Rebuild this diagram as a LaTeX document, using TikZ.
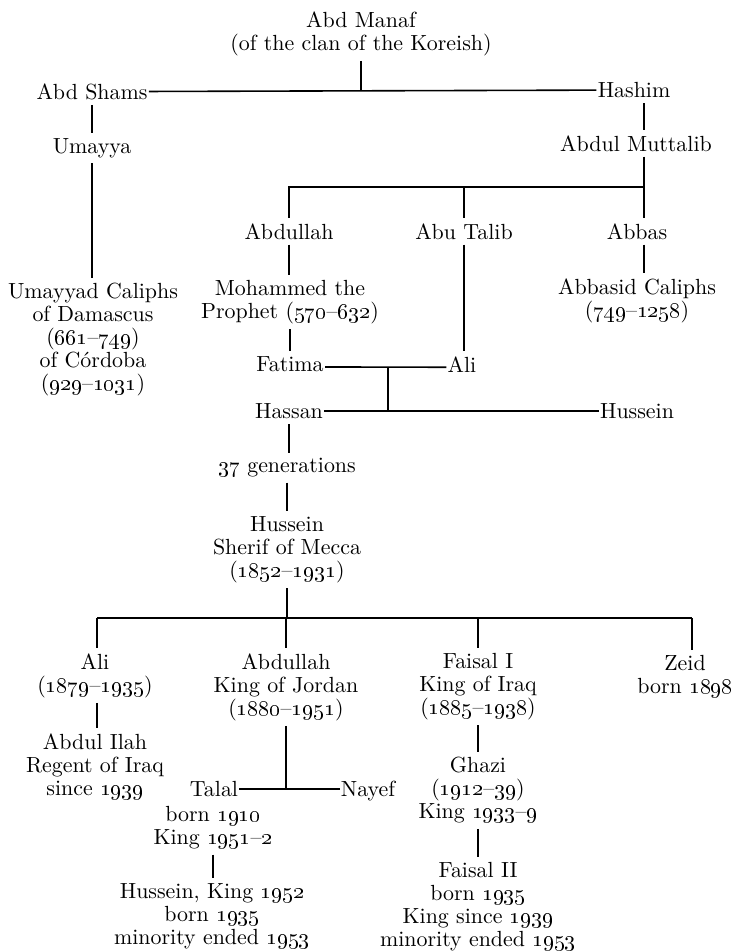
\documentclass[tikz,border=0pt]{standalone}
\usetikzlibrary{calc}
\newcommand\osn[1]{\oldstylenums{#1}}
\begin{document}
\begin{tikzpicture}[x=0.5pt,y=-0.5pt,
  nm/.style={anchor=north,align=center,inner xsep=0.5pt,inner ysep=2.5pt,
    font=\fontsize{10.95}{11.5}\selectfont},
  ln/.style={line width=0.8pt}]
\useasboundingbox (0,0) rectangle (736,952);
% nodes
\node[nm] (manaf) at (361,6) {Abd Manaf\\(of the clan of the Koreish)};
\node[nm] (shams) at (92,78) {Abd Shams};
\node[nm] (hashim) at (634,77) {Hashim};
\node[nm] (umayya) at (92,133) {Umayya};
\node[nm] (umcal) at (93,278) {Umayyad Caliphs\\of Damascus\\(\osn{661}–\osn{749})\\of Córdoba\\(\osn{929}–\osn{1031})};
\node[nm] (muttalib) at (636,130) {Abdul Muttalib};
\node[nm] (abdullahA) at (289,218) {Abdullah};
\node[nm] (abutalib) at (464,218) {Abu Talib};
\node[nm] (abbas) at (637,218) {Abbas};
\node[nm] (mohammed) at (290,275) {Mohammed the\\Prophet (\osn{570}–\osn{632})};
\node[nm] (abbasid) at (637,273) {Abbasid Caliphs\\(\osn{749}–\osn{1258})};
\node[nm] (fatima) at (290,351) {Fatima};
\node[nm] (aliA) at (462,351) {Ali};
\node[nm] (hassan) at (289,398) {Hassan};
\node[nm] (husseinA) at (637,398) {Hussein};
\node[nm] (gen) at (287,453) {\osn{37} generations};
\node[nm] (sherif) at (287,511) {Hussein\\Sherif of Mecca\\(\osn{1852}–\osn{1931})};
\node[nm] (aliB) at (95,648) {Ali\\(\osn{1879}–\osn{1935})};
\node[nm] (ilah) at (95,728) {Abdul Ilah\\Regent of Iraq\\since \osn{1939}};
\node[nm] (abdullahB) at (286,648) {Abdullah\\King of Jordan\\(\osn{1880}–\osn{1951})};
\node[nm] (faisalA) at (478,648) {Faisal I\\King of Iraq\\(\osn{1885}–\osn{1938})};
\node[nm] (zeid) at (685,650) {Zeid\\born \osn{1898}};
\node[nm] (talal) at (214,776) {Talal};
\node[nm] (talalb) at (213,801) {born \osn{1910}\\King \osn{1951}–\osn{2}};
\node[nm] (nayef) at (368,776) {Nayef};
\node[nm] (husseinB) at (212,878) {Hussein, King \osn{1952}\\born \osn{1935}\\minority ended \osn{1953}};
\node[nm] (ghazi) at (478,752) {Ghazi\\(\osn{1912}–\osn{39})\\King \osn{1933}–\osn{9}};
\node[nm] (faisalB) at (478,857) {Faisal II\\born \osn{1935}\\King since \osn{1939}\\minority ended \osn{1953}};
% coordinates
\coordinate (mt) at (644,187);
\coordinate (bar) at (287,618);
\coordinate (tA) at (97,618);
\coordinate (tZ) at (692,618);
% connectors
\draw[ln] (manaf.south) -- (manaf.south |- shams.east);
\draw[ln] (shams.east) -- (hashim.west);
\draw[ln] (shams.south) -- (shams.south |- umayya.north);
\draw[ln] (umayya.south) -- (umayya.south |- umcal.north);
\draw[ln] (hashim.south -| mt) -- (muttalib.north -| mt);
\draw[ln] (muttalib.south -| mt) -- (abbas.north -| mt);
\draw[ln] (mt) -| (abdullahA.north);
\draw[ln] (abutalib.north |- mt) -- (abutalib.north);
\draw[ln] (abbas.south -| mt) -- (abbasid.north -| mt);
\draw[ln] (abdullahA.south) -- (abdullahA.south |- mohammed.north);
\draw[ln] (mohammed.south) -- (mohammed.south |- fatima.north);
\draw[ln] (abutalib.south) -- (abutalib.south |- aliA.north);
\draw[ln] ([yshift=-1.5pt]fatima.east) -- ([yshift=-1.5pt]aliA.west);
\draw[ln] ($([yshift=-1.5pt]fatima.east)!0.52!([yshift=-1.5pt]aliA.west)$) coordinate (mar) -- (mar |- hassan.east);
\draw[ln] (hassan.east) -- (husseinA.west);
\draw[ln] (hassan.south) -- (hassan.south |- gen.north);
\draw[ln] (gen.south) -- (gen.south |- sherif.north);
\draw[ln] (sherif.south) -- (sherif.south |- bar);
\draw[ln] (tA) -- (tZ);
\draw[ln] (tA) -- (tA |- aliB.north);
\draw[ln] (abdullahB.north |- bar) -- (abdullahB.north);
\draw[ln] (faisalA.north |- bar) -- (faisalA.north);
\draw[ln] (tZ) -- (tZ |- zeid.north);
\draw[ln] (aliB.south -| tA) -- (ilah.north -| tA);
\draw[ln] (abdullahB.south) -- (abdullahB.south |- talal.east);
\draw[ln] (talal.east) -- (talal.east -| nayef.west);
\draw[ln] (talalb.south) -- (talalb.south |- husseinB.north);
\draw[ln] (faisalA.south) -- (faisalA.south |- ghazi.north);
\draw[ln] (ghazi.south) -- (ghazi.south |- faisalB.north);
\end{tikzpicture}
\end{document}
